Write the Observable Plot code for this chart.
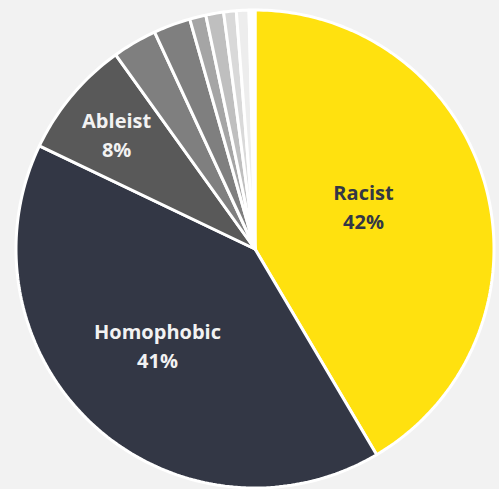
<!DOCTYPE html>
<html>
<head>
<meta charset="utf-8">
<script src="https://cdn.jsdelivr.net/npm/d3@7"></script>
<script src="https://cdn.jsdelivr.net/npm/@observablehq/plot@0.6"></script>
<style>
  html, body { margin: 0; padding: 0; background: #f2f2f2; }
  #chart svg { display: block; background: #f2f2f2; }
</style>
</head>
<body>
<div id="chart"></div>
<script>
// ---- data ----
const categories = ["Racist", "Homophobic", "Ableist", "Sexist", "Transphobic", "Antisemitic", "Islamophobic", "Xenophobic", "Ageist", "Other"];
const shares = [41.5, 40.6, 8.0, 3.0, 2.5, 1.1, 1.2, 0.85, 0.85, 0.4];
const labelTexts = ["Racist\n42%", "Homophobic\n41%", "Ableist\n8%", "", "", "", "", "", "", ""];

// ---- style / layout ----
const colors = ["#FFE10F", "#333745", "#595959", "#7F7F7F", "#7F7F7F", "#A5A5A5", "#BFBFBF", "#D9D9D9", "#EDEDED", "#FFFFFF"];
const textColors = ["#333745", "#F2F2F2", "#F2F2F2"];
// label anchor positions as fraction of radius (x right, y up)
const labelAt = [[0.454, 0.185], [-0.408, -0.400], [-0.579, 0.484]];

// ---- build slice outlines (clockwise from 12 o'clock) ----
const total = d3.sum(shares);
const slicePoints = [];
let acc = 0;
shares.forEach((v, i) => {
  const a0 = acc / total * 2 * Math.PI;
  acc += v;
  const a1 = acc / total * 2 * Math.PI;
  const n = Math.max(2, Math.ceil((a1 - a0) / (Math.PI / 180)));
  slicePoints.push({cat: categories[i], x: 0, y: 0});
  for (let k = 0; k <= n; k++) {
    const a = a0 + (a1 - a0) * k / n;
    slicePoints.push({cat: categories[i], x: Math.sin(a), y: Math.cos(a)});
  }
  slicePoints.push({cat: categories[i], x: 0, y: 0});
});

const labelRows = labelAt.map((p, i) => ({
  cat: categories[i], text: labelTexts[i], x: p[0], y: p[1], color: textColors[i]
}));

const chart = Plot.plot({
  width: 499,
  height: 489,
  marginLeft: 15.5,
  marginRight: 5.5,
  marginTop: 9.5,
  marginBottom: 1.5,
  style: {background: "#f2f2f2"},
  x: {domain: [-1, 1], axis: null},
  y: {domain: [-1, 1], axis: null},
  color: {domain: categories, range: colors},
  marks: [
    Plot.line(slicePoints, {
      x: "x", y: "y", z: "cat", fill: "cat",
      stroke: "#ffffff", strokeWidth: 3, strokeLinejoin: "miter", strokeOpacity: 1
    }),
    Plot.text(labelRows, {
      x: "x", y: "y", text: "text", fill: d => d.color,
      fontSize: 20, fontWeight: "bold", fontFamily: "Open Sans",
      lineHeight: 1.45, lineAnchor: "middle"
    })
  ]
});
document.getElementById("chart").appendChild(chart);
</script>
</body>
</html>
